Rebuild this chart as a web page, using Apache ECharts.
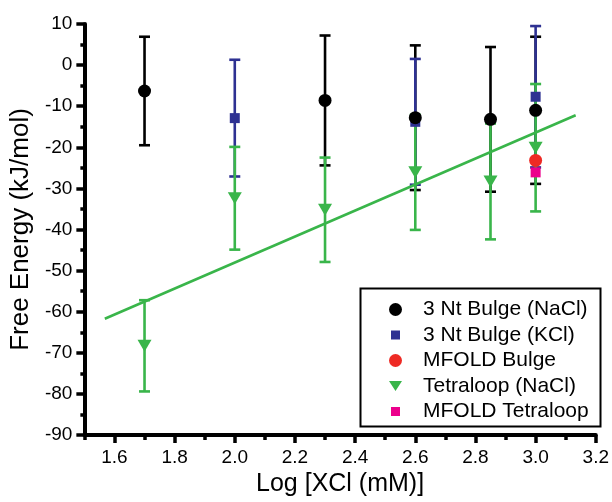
<!DOCTYPE html>
<html>
<head>
<meta charset="utf-8">
<script src="https://cdn.jsdelivr.net/npm/echarts@6/dist/echarts.min.js"></script>
<style>
  html, body { margin: 0; padding: 0; background: #fff; }
  #chart { width: 612px; height: 502px; }
</style>
</head>
<body>
<div id="chart"></div>
<script>
// tick labels
const xMajorTicks = [1.6, 1.8, 2.0, 2.2, 2.4, 2.6, 2.8, 3.0, 3.2];
const xMinorTicks = [1.5, 1.7, 1.9, 2.1, 2.3, 2.5, 2.7, 2.9, 3.1];

// 3 Nt Bulge (NaCl)
const bulgeNaClX = [1.7, 2.3, 2.6, 2.85, 3.0];
const bulgeNaClY = [-6.3, -8.6, -12.8, -13.2, -11.0];
const bulgeNaClErr = [13.2, 15.8, 17.6, 17.6, 17.9];

// 3 Nt Bulge (KCl)
const bulgeKClX = [2.0, 2.6, 3.0];
const bulgeKClY = [-12.9, -13.8, -7.7];
const bulgeKClErr = [14.2, 15.3, 17.2];

// Tetraloop (NaCl)
const tetraNaClX = [1.7, 2.0, 2.3, 2.6, 2.85, 3.0];
const tetraNaClY = [-68.3, -32.4, -35.2, -26.1, -28.3, -20.1];
const tetraNaClErr = [11.1, 12.5, 12.7, 14.0, 14.1, 15.5];

// MFOLD predictions
const mfoldBulgeX = [3.0];
const mfoldBulgeY = [-23.2];
const mfoldTetraX = [3.0];
const mfoldTetraY = [-26.1];

// linear fit of tetraloop data
const fitX = [1.568, 3.133];
const fitY = [-61.7, -12.2];

const FONT = 'Liberation Sans, Arial, Helvetica, sans-serif';

// legend icons (small square padded inside the icon box, down triangle)
const smallSquare = 'path://M0,0 L0,0.01 M2,2 L11,2 L11,11 L2,11 Z M13,13 L13,12.99';
const downTriangle = 'path://M0,1 L14,1 L7,12 Z M0,0 L0,0.01 M14,13 L14,12.99';

function pts(xs, ys) {
  return xs.map((x, i) => [x, ys[i]]);
}
function errPts(xs, ys, es) {
  return xs.map((x, i) => [x, ys[i] - es[i], ys[i] + es[i]]);
}

// error bars: vertical line + caps
function errorBar(name, xs, ys, es, color, z) {
  return {
    name: name,
    type: 'custom',
    z: z,
    silent: true,
    encode: { x: 0, y: [1, 2] },
    data: errPts(xs, ys, es),
    renderItem: function (params, api) {
      const x = api.value(0);
      const lo = api.coord([x, api.value(1)]);
      const hi = api.coord([x, api.value(2)]);
      const hw = 5.5;
      const style = { stroke: color, lineWidth: 2.6, fill: null };
      return {
        type: 'group',
        children: [
          { type: 'line', shape: { x1: lo[0], y1: lo[1], x2: hi[0], y2: hi[1] }, style: style },
          { type: 'line', shape: { x1: lo[0] - hw, y1: lo[1], x2: lo[0] + hw, y2: lo[1] }, style: style },
          { type: 'line', shape: { x1: hi[0] - hw, y1: hi[1], x2: hi[0] + hw, y2: hi[1] }, style: style }
        ]
      };
    }
  };
}

const chart = echarts.init(document.getElementById('chart'), null, { renderer: 'canvas' });

const option = {
  animation: false,
  backgroundColor: '#fff',
  grid: { left: 81, right: 14, top: 24, bottom: 62, containLabel: false },
  xAxis: [
    {
      type: 'value',
      min: 1.5,
      max: 3.2,
      position: 'bottom',
      name: 'Log [XCl (mM)]',
      nameLocation: 'middle',
      nameGap: 37,
      nameTextStyle: { fontFamily: FONT, fontSize: 25, color: '#000' },
      axisLine: { show: true, onZero: false, lineStyle: { color: '#000', width: 4 } },
      axisTick: { show: true, customValues: xMajorTicks, length: 8, lineStyle: { color: '#000', width: 3.5 } },
      axisLabel: {
        customValues: xMajorTicks,
        formatter: v => v.toFixed(1),
        fontFamily: FONT, fontSize: 19, color: '#000', margin: 13
      },
      splitLine: { show: false }
    },
    {
      type: 'value',
      min: 1.5,
      max: 3.2,
      position: 'bottom',
      axisLine: { show: false, onZero: false },
      axisTick: { show: true, customValues: xMinorTicks, length: 5, lineStyle: { color: '#000', width: 3.5 } },
      axisLabel: { show: false },
      splitLine: { show: false }
    }
  ],
  yAxis: {
    type: 'value',
    min: -90,
    max: 10,
    interval: 10,
    name: 'Free Energy (kJ/mol)',
    nameLocation: 'middle',
    nameGap: 46,
    nameTextStyle: { fontFamily: FONT, fontSize: 26, color: '#000' },
    axisLine: { show: true, onZero: false, lineStyle: { color: '#000', width: 4 } },
    axisTick: { show: true, length: 8, lineStyle: { color: '#000', width: 3.5 } },
    minorTick: { show: true, splitNumber: 2, length: 4, lineStyle: { color: '#000', width: 3.5 } },
    axisLabel: { fontFamily: FONT, fontSize: 19, color: '#000', margin: 12 },
    splitLine: { show: false }
  },
  legend: {
    orient: 'vertical',
    left: 389,
    top: 299,
    itemWidth: 13,
    itemHeight: 13,
    itemGap: 4.5,
    padding: 0,
    z: 10,
    textStyle: { fontFamily: FONT, fontSize: 21, lineHeight: 20, color: '#000', padding: [0, 0, 0, 16] },
    data: [
      { name: '3 Nt Bulge (NaCl)', icon: 'circle' },
      { name: '3 Nt Bulge (KCl)', icon: smallSquare },
      { name: 'MFOLD Bulge', icon: 'circle' },
      { name: 'Tetraloop (NaCl)', icon: downTriangle },
      { name: 'MFOLD Tetraloop', icon: smallSquare }
    ]
  },
  graphic: [
    {
      type: 'rect',
      left: 358,
      top: 286,
      z: 1,
      silent: true,
      shape: { width: 240, height: 138 },
      style: { fill: 'none', stroke: '#000', lineWidth: 2 }
    }
  ],
  series: [
    errorBar('err-bulge-nacl', bulgeNaClX, bulgeNaClY, bulgeNaClErr, '#000000', 2),
    errorBar('err-bulge-kcl', bulgeKClX, bulgeKClY, bulgeKClErr, '#2E3192', 3),
    errorBar('err-tetra-nacl', tetraNaClX, tetraNaClY, tetraNaClErr, '#39B54A', 4),
    {
      name: 'fit',
      type: 'line',
      z: 5,
      data: pts(fitX, fitY),
      symbol: 'none',
      silent: true,
      lineStyle: { color: '#39B54A', width: 2.6 }
    },
    {
      name: '3 Nt Bulge (KCl)',
      type: 'scatter',
      z: 6,
      data: pts(bulgeKClX, bulgeKClY),
      symbol: 'rect',
      symbolSize: 10,
      itemStyle: { color: '#2E3192', opacity: 1 }
    },
    {
      name: '3 Nt Bulge (NaCl)',
      type: 'scatter',
      z: 7,
      data: pts(bulgeNaClX, bulgeNaClY),
      symbol: 'circle',
      symbolSize: 13,
      itemStyle: { color: '#000000', opacity: 1 }
    },
    {
      name: 'MFOLD Tetraloop',
      type: 'scatter',
      z: 7,
      data: pts(mfoldTetraX, mfoldTetraY),
      symbol: 'rect',
      symbolSize: 10,
      itemStyle: { color: '#EC008C', opacity: 1 }
    },
    {
      name: 'MFOLD Bulge',
      type: 'scatter',
      z: 8,
      data: pts(mfoldBulgeX, mfoldBulgeY),
      symbol: 'circle',
      symbolSize: 13,
      itemStyle: { color: '#EE2A24', opacity: 1 }
    },
    {
      name: 'Tetraloop (NaCl)',
      type: 'scatter',
      z: 8,
      data: pts(tetraNaClX, tetraNaClY),
      symbol: 'triangle',
      symbolRotate: 180,
      symbolSize: [14, 12],
      itemStyle: { color: '#39B54A', opacity: 1 }
    }
  ]
};

chart.setOption(option);
</script>
</body>
</html>
